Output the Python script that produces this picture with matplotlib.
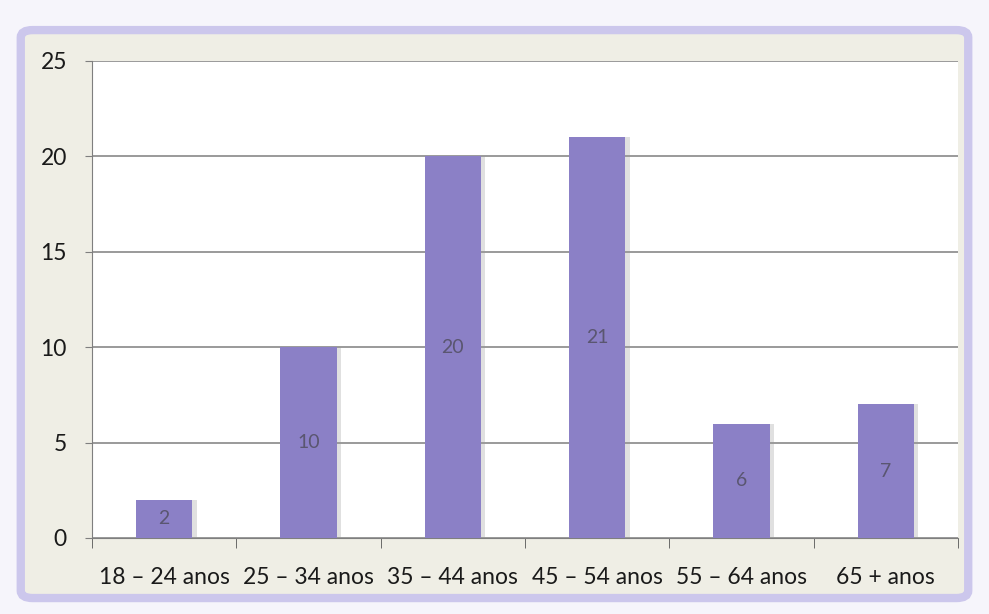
import numpy as np
import matplotlib.pyplot as plt
from matplotlib.patches import FancyBboxPatch

categories = ['18 – 24 anos', '25 – 34 anos', '35 – 44 anos',
              '45 – 54 anos', '55 – 64 anos', '65 + anos']
values = [2, 10, 20, 21, 6, 7]
yticks = [0, 5, 10, 15, 20, 25]

bar_color = '#8B80C6'
panel_color = '#EFEEE5'

plt.rcParams['font.family'] = ['Lato', 'DejaVu Sans']

fig = plt.figure(figsize=(9.89, 6.14), dpi=100)
fig.patch.set_facecolor('#F6F5FB')

# rounded panel with a lavender rim, kept behind the axes
panel = FancyBboxPatch((0.021, 0.026), 0.958, 0.925,
                       boxstyle='round,pad=0.0,rounding_size=0.012',
                       transform=fig.transFigure, facecolor=panel_color,
                       edgecolor='#CCC7EC', linewidth=6, zorder=-1)
fig.patches.append(panel)

ax = fig.add_axes([0.093, 0.1238, 0.8757, 0.7769])
ax.set_zorder(1)
ax.set_facecolor('white')

x = np.arange(len(categories))
width = 0.39

# soft shadow behind the bars
ax.bar(x + 0.03, values, width, color='#9A9A9A', alpha=0.3, zorder=2)
bars = ax.bar(x, values, width, color=bar_color, zorder=3)

for xi, v in zip(x, values):
    ax.text(xi, v / 2, str(v), ha='center', va='center',
            fontsize=14, color='#5A5670', zorder=4)

ax.set_xlim(-0.5, len(categories) - 0.5)
ax.set_ylim(0, 25)
ax.set_yticks(yticks)
ax.yaxis.grid(True, color='#7F7F7F', linewidth=1.1, zorder=1)
ax.set_axisbelow(True)

ax.set_xticks(x)
ax.set_xticklabels(categories)
ax.set_xticks(np.arange(-0.5, len(categories)), minor=True)
ax.tick_params(axis='x', which='major', length=0, pad=21,
               labelsize=16.5, labelcolor='#1A1A1A')
ax.tick_params(axis='x', which='minor', length=7, color='#555555',
               direction='out')
ax.tick_params(axis='y', length=5, color='#7F7F7F', pad=13,
               labelsize=16.5, labelcolor='#1A1A1A')

for side in ['top', 'right']:
    ax.spines[side].set_visible(False)
ax.spines['left'].set_color('#7F7F7F')
ax.spines['bottom'].set_color('#7F7F7F')

fig.savefig('out.png', dpi=100, facecolor=fig.get_facecolor())
